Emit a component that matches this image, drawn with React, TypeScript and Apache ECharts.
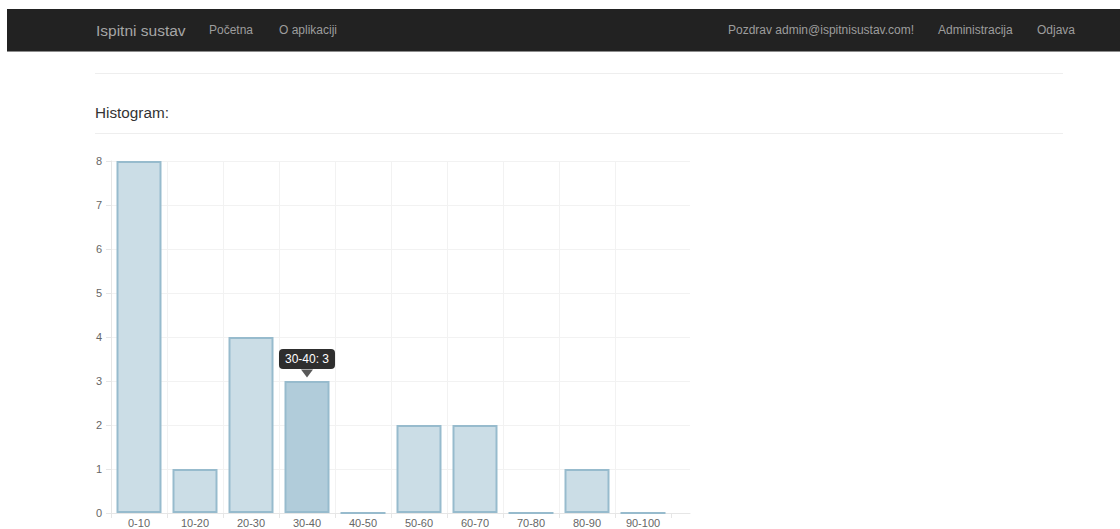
import React, { useEffect, useRef } from "react";
import * as echarts from "echarts";

const categories = ["0-10", "10-20", "20-30", "30-40", "40-50", "50-60", "60-70", "70-80", "80-90", "90-100"];
const counts = [8, 1, 4, 3, 0, 2, 2, 0, 1, 0];
const highlightedIndex = 3;
const navLeft = ["Početna", "O aplikaciji"];
const navRight = ["Pozdrav admin@ispitnisustav.com!", "Administracija", "Odjava"];
const brand = "Ispitni sustav";
const heading = "Histogram:";

const FONT = "'Liberation Sans', Arial, Helvetica, sans-serif";

export default function App() {
  const ref = useRef<HTMLDivElement>(null);
  useEffect(() => {
    if (!ref.current) return;
    const chart = echarts.init(ref.current, null, { renderer: "svg" });
    const navLeftX = [209, 279];
    const navRightX = [728, 938, 1037];
    const textCommon = { fill: "#9d9d9d", fontSize: 12, fontFamily: FONT, verticalAlign: "middle" };
    const graphic: any[] = [
      { type: "rect", shape: { x: 7, y: 9, width: 1113, height: 42 }, style: { fill: "#222222" }, z: 0 },
      { type: "line", shape: { x1: 7, y1: 51.5, x2: 1120, y2: 51.5 }, style: { stroke: "#8c8c8c", lineWidth: 1 } },
      { type: "text", style: { ...textCommon, text: brand, x: 96, y: 30, fontSize: 15.5, fill: "#a6a6a6" } },
      ...navLeft.map((t, i) => ({ type: "text", style: { ...textCommon, text: t, x: navLeftX[i], y: 30 } })),
      ...navRight.map((t, i) => ({ type: "text", style: { ...textCommon, text: t, x: navRightX[i], y: 30 } })),
      { type: "line", shape: { x1: 95, y1: 73.5, x2: 1063, y2: 73.5 }, style: { stroke: "#eeeeee", lineWidth: 1 } },
      { type: "text", style: { text: heading, x: 95, y: 112, fill: "#333333", fontSize: 15.3, fontFamily: FONT, verticalAlign: "middle" } },
      { type: "line", shape: { x1: 95, y1: 133.5, x2: 1063, y2: 133.5 }, style: { stroke: "#eeeeee", lineWidth: 1 } },
    ];

    const vLineColors = categories.map(() => "#f2f2f2").concat(["rgba(0,0,0,0)"]);

    chart.setOption({
      animation: false,
      graphic,
      grid: [
        { left: 111, right: 1120 - 671, top: 161, bottom: 529 - 513, containLabel: false },
        { left: 111, right: 1120 - 690, top: 161, bottom: 529 - 513, containLabel: false },
      ],
      xAxis: [
        {
          type: "category",
          gridIndex: 0,
          data: categories,
          boundaryGap: true,
          axisLine: { show: false },
          axisTick: { show: true, length: 5, lineStyle: { color: "#e6e6e6" } },
          splitLine: { show: true, lineStyle: { color: vLineColors, width: 1 } },
          axisLabel: { color: "#666666", fontSize: 11, fontFamily: FONT, margin: 4, interval: 0 },
        },
        {
          type: "value",
          gridIndex: 1,
          min: 0,
          max: 1,
          axisLine: { show: true, lineStyle: { color: "#e6e6e6" } },
          axisTick: { show: false },
          axisLabel: { show: false },
          splitLine: { show: false },
        },
      ],
      yAxis: [
        {
          type: "value",
          gridIndex: 0,
          min: 0,
          max: 8,
          interval: 1,
          axisLine: { show: true, lineStyle: { color: "#e6e6e6" } },
          axisTick: { show: true, length: 5, lineStyle: { color: "#e6e6e6" } },
          splitLine: { show: false },
          axisLabel: { color: "#666666", fontSize: 11, fontFamily: FONT, margin: 9 },
        },
        {
          type: "value",
          gridIndex: 1,
          min: 0,
          max: 8,
          interval: 1,
          axisLine: { show: false },
          axisTick: { show: false },
          axisLabel: { show: false },
          splitLine: { show: true, lineStyle: { color: "#f2f2f2", width: 1 } },
        },
      ],
      series: [
        {
          type: "bar",
          xAxisIndex: 0,
          yAxisIndex: 0,
          barWidth: 45,
          itemStyle: { color: "#cbdde6", borderColor: "#97bbcd", borderWidth: 2 },
          data: counts.map((v, i) =>
            i === highlightedIndex
              ? {
                  value: v,
                  itemStyle: { color: "#b1ccda" },
                  label: {
                    show: true,
                    position: "top",
                    distance: 12,
                    formatter: "{b}: {c}",
                    color: "#ffffff",
                    fontSize: 12,
                    fontFamily: FONT,
                    lineHeight: 12,
                    backgroundColor: "rgba(0,0,0,0.82)",
                    borderRadius: 4,
                    padding: [4, 6, 4, 6],
                  },
                }
              : v
          ),
          z: 2,
        },
        {
          type: "scatter",
          xAxisIndex: 0,
          yAxisIndex: 0,
          symbol: "path://M0,0L12,0L6,8Z",
          symbolSize: [12, 8],
          symbolOffset: [0, -7.5],
          itemStyle: { color: "rgba(0,0,0,0.82)" },
          data: counts.map((v, i) => (i === highlightedIndex ? v : "-")),
          silent: true,
          z: 3,
        },
      ],
    });
    return () => chart.dispose();
  }, []);
  return (
    <div
      ref={ref}
      style={{ position: "fixed", left: 0, top: 0, width: 1120, height: 529, background: "#ffffff" }}
    />
  );
}
